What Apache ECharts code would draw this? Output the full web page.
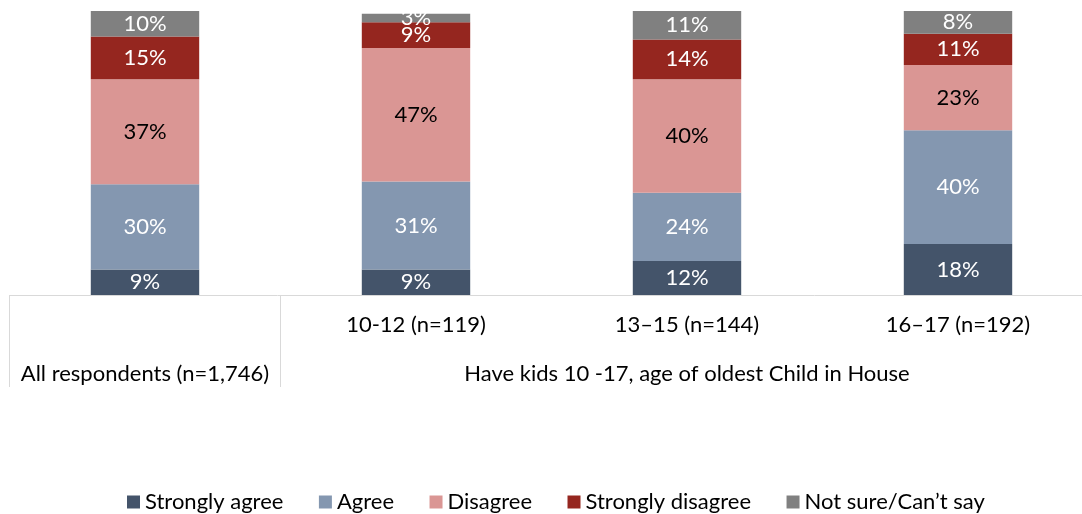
<!DOCTYPE html>
<html>
<head>
<meta charset="utf-8">
<script src="https://cdn.jsdelivr.net/npm/echarts@6/dist/echarts.min.js"></script>
<style>
  html, body { margin: 0; padding: 0; background: #fff; }
  #chart { width: 1082px; height: 514px; }
</style>
</head>
<body>
<div id="chart"></div>
<script>
// Survey response shares (%) per respondent group
const groupLabels = ['', '10-12 (n=119)', '13–15 (n=144)', '16–17 (n=192)'];
const parentLabels = ['All respondents (n=1,746)', '', 'Have kids 10 -17, age of oldest Child in House', ''];

const stronglyAgree = [9, 9, 12, 18];
const agree = [30, 31, 24, 40];
const disagree = [37, 47, 40, 23];
const stronglyDisagree = [15, 9, 14, 11];
const notSure = [10, 3, 11, 8];

const FONT = 'Lato';
const SIZE = 22;

function makeSeries(name, data, color, labelColor) {
  return {
    name: name,
    type: 'bar',
    stack: 'total',
    barWidth: '40%',
    data: data,
    itemStyle: { color: color },
    label: {
      show: true,
      position: 'inside',
      formatter: '{c}%',
      color: labelColor,
      fontFamily: FONT,
      fontSize: SIZE
    }
  };
}

const chart = echarts.init(document.getElementById('chart'), null, { renderer: 'canvas' });
chart.setOption({
  animation: false,
  textStyle: { fontFamily: FONT },
  // plot area runs slightly past the right edge so the four columns are 271px wide
  grid: { left: 9.5, width: 1084, top: 11, bottom: 219, containLabel: false, outerBoundsMode: 'none' },
  legend: {
    bottom: 1,
    left: 127,
    padding: 0,
    itemWidth: 13,
    itemHeight: 13,
    itemGap: 35.5,
    icon: 'rect',
    textStyle: { fontFamily: FONT, fontSize: SIZE, color: '#000' },
    data: ['Strongly agree', 'Agree', 'Disagree', 'Strongly disagree', 'Not sure/Can’t say']
  },
  xAxis: [
    {
      type: 'category',
      data: groupLabels,
      position: 'bottom',
      axisLine: { show: true, lineStyle: { color: '#d9d9d9', width: 1 } },
      axisTick: { show: false },
      axisLabel: { margin: 19, color: '#000', fontFamily: FONT, fontSize: SIZE, interval: 0 }
    },
    {
      type: 'category',
      data: parentLabels,
      position: 'bottom',
      axisLine: { show: false },
      axisTick: {
        show: true,
        length: 92,
        interval: function (index) { return index <= 1; },
        lineStyle: { color: '#d9d9d9', width: 1 }
      },
      axisLabel: { margin: 68, color: '#000', fontFamily: FONT, fontSize: SIZE, interval: 0 }
    }
  ],
  yAxis: { type: 'value', min: 0, max: 100, show: false },
  series: [
    makeSeries('Strongly agree', stronglyAgree, '#44546A', '#fff'),
    makeSeries('Agree', agree, '#8497B0', '#fff'),
    makeSeries('Disagree', disagree, '#DA9694', '#000'),
    makeSeries('Strongly disagree', stronglyDisagree, '#95261F', '#fff'),
    makeSeries('Not sure/Can’t say', notSure, '#808080', '#fff')
  ]
});
</script>
</body>
</html>
